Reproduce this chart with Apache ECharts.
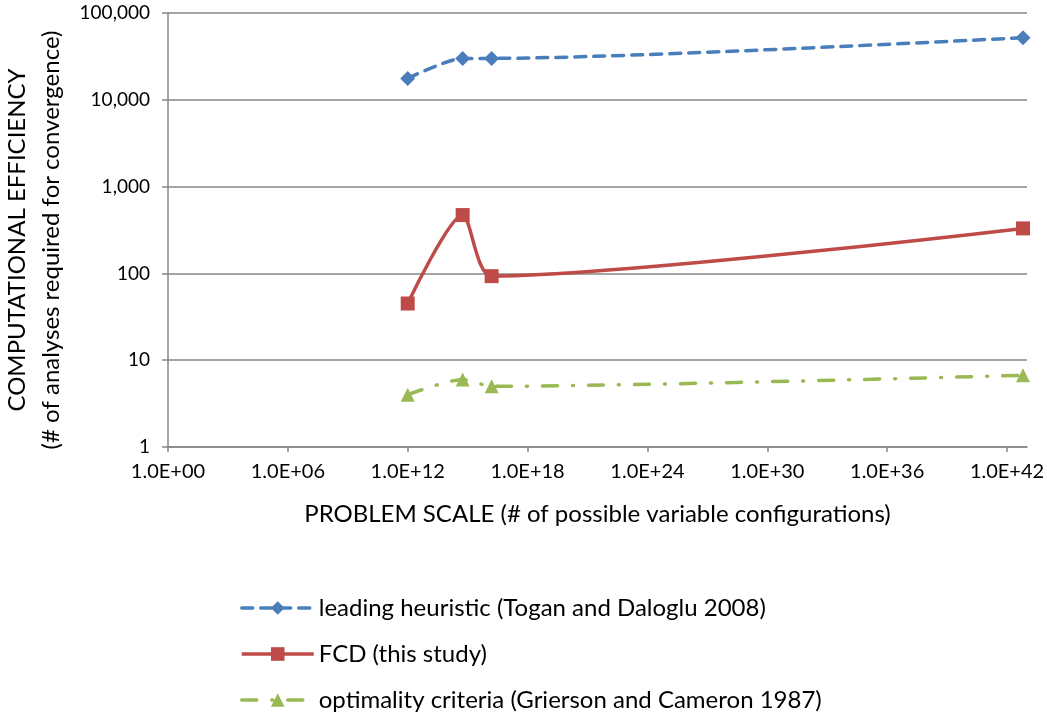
<!DOCTYPE html>
<html>
<head>
<meta charset="utf-8">
<script src="https://cdn.jsdelivr.net/npm/echarts@6/dist/echarts.min.js"></script>
<style>
html,body{margin:0;padding:0;background:#fff;}
#chart{width:1047px;height:721px;}
</style>
</head>
<body>
<div id="chart"></div>
<script>
// x values are exponents of the problem scale (10^x possible configurations)
const problemScaleExp = [12, 14.75, 16.2, 42.8];
const heuristicValues = [17600, 30000, 30000, 52000];
const fcdValues = [45, 470, 93, 330];
const optimalityValues = [4, 6, 5, 6.7];
const xTickExps = [0, 6, 12, 18, 24, 30, 36, 42];
const seriesNames = [
  'leading heuristic (Togan and Daloglu 2008)',
  'FCD (this study)',
  'optimality criteria (Grierson and Cameron 1987)'
];

const FONT = 'Lato, "Open Sans", sans-serif';
const pair = (xs, ys) => xs.map((x, i) => [x, ys[i]]);
const fmtExp = v => '1.0E+' + String(Math.round(v)).padStart(2, '0');

const chart = echarts.init(document.getElementById('chart'), null, {renderer: 'canvas'});
chart.setOption({
  animation: false,
  backgroundColor: '#ffffff',
  grid: {left: 168, right: 20, top: 13, bottom: 274, containLabel: false, outerBoundsMode: 'none'},
  xAxis: {
    type: 'value', min: 0, max: 43, interval: 6,
    name: 'PROBLEM SCALE (# of possible variable configurations)',
    nameLocation: 'middle', nameGap: 55,
    nameTextStyle: {fontFamily: FONT, fontSize: 24, color: '#000'},
    axisLine: {show: true, lineStyle: {color: '#868686', width: 1.5}},
    axisTick: {show: true, length: 5, customValues: xTickExps, lineStyle: {color: '#868686', width: 1.5}},
    axisLabel: {customValues: xTickExps, formatter: fmtExp, fontFamily: FONT, fontSize: 20, color: '#000', margin: 15},
    splitLine: {show: false}
  },
  yAxis: {
    type: 'log', logBase: 10, min: 1, max: 100000,
    name: 'COMPUTATIONAL EFFICIENCY\n(# of analyses required for convergence)',
    nameLocation: 'middle', nameRotate: 90, nameGap: 87,
    nameTextStyle: {fontFamily: FONT, fontSize: 24, color: '#000', lineHeight: 34, align: 'center', padding: [0, 20, 0, 0]},
    axisLine: {show: true, lineStyle: {color: '#868686', width: 1.5}},
    axisTick: {show: true, length: 6, lineStyle: {color: '#868686', width: 1.5}},
    axisLabel: {formatter: v => Number(v).toLocaleString('en-US'), fontFamily: FONT, fontSize: 19, color: '#000', margin: 18},
    splitLine: {show: true, lineStyle: {color: '#868686', width: 1.5}},
    minorTick: {show: false}
  },
  legend: {
    orient: 'vertical', left: 240, top: 596, padding: 0,
    itemWidth: 72, itemHeight: 17, itemGap: 22,
    textStyle: {fontFamily: FONT, fontSize: 24, color: '#000'},
    lineStyle: {width: 3.5},
    data: seriesNames
  },
  series: [
    {
      name: seriesNames[0], type: 'line', smooth: 0.25,
      data: pair(problemScaleExp, heuristicValues),
      symbol: 'diamond', symbolSize: 15,
      itemStyle: {color: '#4A7EBB'},
      lineStyle: {color: '#4A7EBB', width: 3.5, type: [11, 8], cap: 'round'}
    },
    {
      name: seriesNames[1], type: 'line', smooth: 0.25,
      data: pair(problemScaleExp, fcdValues),
      symbol: 'rect', symbolSize: 14,
      itemStyle: {color: '#BE4B48'},
      lineStyle: {color: '#BE4B48', width: 3.5}
    },
    {
      name: seriesNames[2], type: 'line', smooth: 0.25,
      data: pair(problemScaleExp, optimalityValues),
      symbol: 'triangle', symbolSize: 14,
      itemStyle: {color: '#98B954'},
      lineStyle: {color: '#98B954', width: 3.5, type: [15, 15, 1, 15], cap: 'round'}
    }
  ]
});
</script>
</body>
</html>
